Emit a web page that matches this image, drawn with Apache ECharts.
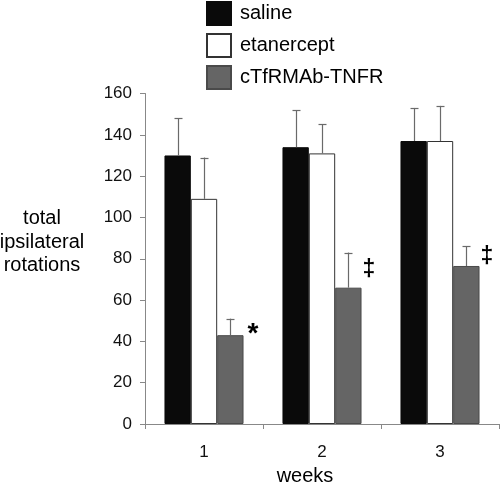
<!DOCTYPE html>
<html>
<head>
<meta charset="utf-8">
<script src="https://cdn.jsdelivr.net/npm/echarts@6/dist/echarts.min.js"></script>
<style>html,body{margin:0;padding:0;background:#fff}#c{width:500px;height:485px}</style>
</head>
<body>
<div id="c"></div>
<script>
var categories = ['1', '2', '3'];
var seriesNames = ['saline', 'etanercept', 'cTfRMAb-TNFR'];
var salineMean = [130, 134, 137];
var salineErr = [18, 18, 16];
var etanerceptMean = [109, 131, 137];
var etanerceptErr = [20, 14, 17];
var tnfrMean = [43, 66, 76.5];
var tnfrErr = [8, 17, 9.5];
var tnfrSig = ['*', '‡', '‡'];
var yTicks = [0, 20, 40, 60, 80, 100, 120, 140, 160];

var FONT = '"Liberation Sans", Arial, sans-serif';
var GAP = 0.33;
var means = [salineMean, etanerceptMean, tnfrMean];
var errs = [salineErr, etanerceptErr, tnfrErr];
var colors = ['#0a0a0a', '#ffffff', '#656565'];
var borders = ['#0a0a0a', '#333333', '#4a4a4a'];

var chart = echarts.init(document.getElementById('c'), null, {renderer: 'canvas'});

var series = [];
seriesNames.forEach(function (name, s) {
  series.push({
    name: name, type: 'bar', data: means[s],
    barGap: 0, barCategoryGap: (GAP * 100) + '%',
    itemStyle: {color: colors[s], borderColor: borders[s], borderWidth: 1},
    z: 2
  });
});

var errData = [];
for (var s = 0; s < 3; s++) for (var i = 0; i < categories.length; i++) {
  errData.push([i, means[s][i], errs[s][i], s]);
}
series.push({
  type: 'custom', name: 'err', data: errData, z: 5, silent: true,
  renderItem: function (params, api) {
    var ci = api.value(0), m = api.value(1), e = api.value(2), s = api.value(3);
    var catW = api.size([1, 0])[0];
    var bw = catW * (1 - GAP) / 3;
    var c = api.coord([ci, m]);
    var x = Math.round(c[0] + (s - 1) * bw) + 0.5;
    var y0 = c[1];
    var y1 = api.coord([ci, m + e])[1];
    var style = {stroke: '#6a6a6a', lineWidth: 1.2};
    return {type: 'group', children: [
      {type: 'line', shape: {x1: x, y1: y0, x2: x, y2: y1}, style: style},
      {type: 'line', shape: {x1: x - 4, y1: Math.round(y1) + 0.5, x2: x + 4, y2: Math.round(y1) + 0.5}, style: style}
    ]};
  }
});

var sigData = [];
for (var i = 0; i < categories.length; i++) sigData.push([i, tnfrMean[i], tnfrErr[i], tnfrSig[i]]);
series.push({
  type: 'custom', name: 'sig', data: sigData, z: 6, silent: true,
  renderItem: function (params, api) {
    var ci = api.value(0), m = api.value(1), e = api.value(2);
    var txt = sigData[params.dataIndex][3];
    var catW = api.size([1, 0])[0];
    var bw = catW * (1 - GAP) / 3;
    var c = api.coord([ci, m + e / 2]);
    var xr = c[0] + 1.5 * bw;
    var isStar = txt === '*';
    return {type: 'text', style: {
      x: xr + (isStar ? 4 : 1), y: c[1] + (isStar ? 7 : 0), text: txt,
      font: 'bold ' + (isStar ? 28 : 23) + 'px ' + FONT,
      fill: '#000', align: 'left', verticalAlign: 'middle'
    }};
  }
});

chart.setOption({
  animation: false,
  backgroundColor: '#fff',
  legend: {
    data: seriesNames, orient: 'vertical', left: 206, top: 1, padding: 0,
    itemWidth: 24, itemHeight: 23, itemGap: 7,
    icon: 'rect',
    textStyle: {fontFamily: FONT, fontSize: 20, lineHeight: 23, color: '#000', padding: [0, 0, 0, 4]}
  },
  grid: {left: 145, right: 1, top: 93.5, bottom: 61, containLabel: false},
  xAxis: {
    type: 'category', data: categories,
    axisLine: {lineStyle: {color: '#888', width: 1}},
    axisTick: {show: true, length: 5, lineStyle: {color: '#888'}},
    axisLabel: {fontFamily: FONT, fontSize: 17, color: '#111', margin: 20}
  },
  yAxis: {
    type: 'value', min: yTicks[0], max: yTicks[yTicks.length - 1], interval: yTicks[1] - yTicks[0],
    splitLine: {show: false},
    axisLine: {show: true, lineStyle: {color: '#888', width: 1}},
    axisTick: {show: true, length: 5, lineStyle: {color: '#888'}},
    axisLabel: {fontFamily: FONT, fontSize: 17, color: '#111', margin: 13}
  },
  graphic: [
    {type: 'text', style: {
      text: 'total\nipsilateral\nrotations', x: 0, y: 0,
      font: '20px ' + FONT, fill: '#000', align: 'center', lineHeight: 23.5
    }, x: 42, y: 207},
    {type: 'text', style: {
      text: 'weeks', x: 305, y: 476, font: '20px ' + FONT, fill: '#000',
      align: 'center', verticalAlign: 'middle'
    }}
  ],
  series: series
});
</script>
</body>
</html>
